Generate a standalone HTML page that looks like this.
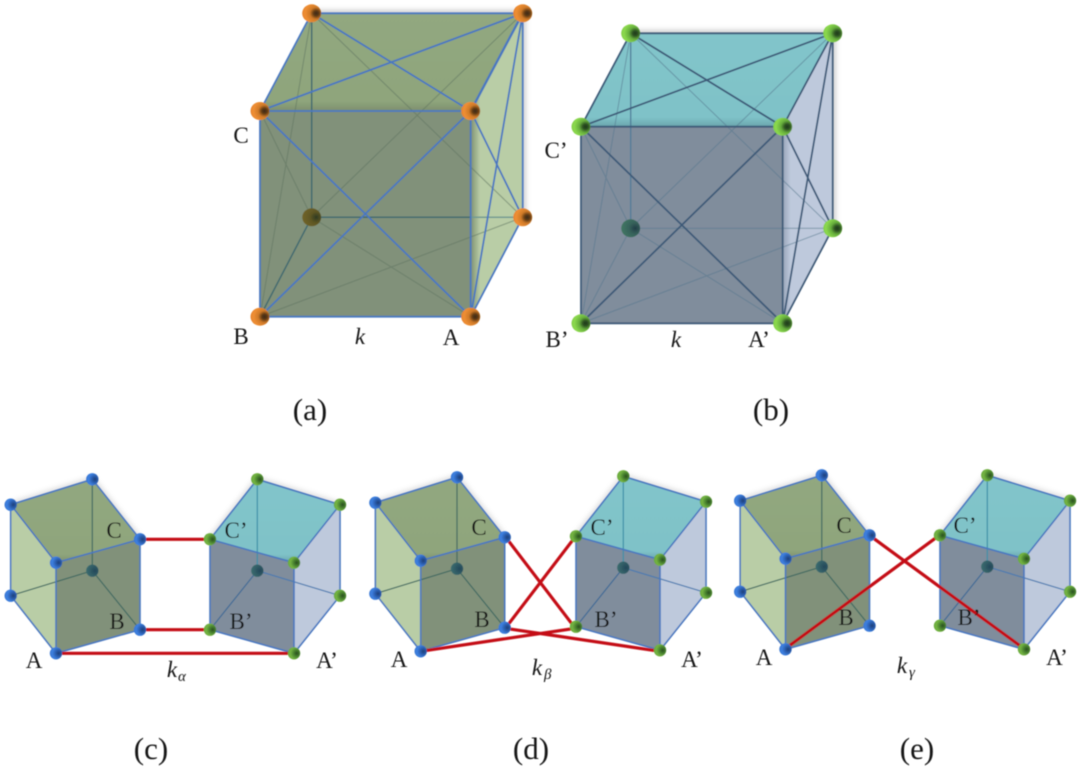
<!DOCTYPE html>
<html><head><meta charset="utf-8"><style>
html,body{margin:0;padding:0;background:#fff}
svg{display:block}
text{font-family:"Liberation Serif",serif;fill:#151515}
.l{font-size:23px;text-anchor:middle}
.c{font-size:31px;text-anchor:middle}
.i{font-style:italic}
.s{font-size:15px;font-style:italic}
</style></head><body>
<svg width="1080" height="767" viewBox="0 0 1080 767" xmlns="http://www.w3.org/2000/svg">
<defs>
<filter id="b" x="-5%" y="-5%" width="110%" height="110%"><feGaussianBlur stdDeviation="0.5"/></filter>
<filter id="sh" x="-20%" y="-20%" width="140%" height="140%"><feGaussianBlur stdDeviation="3"/></filter>
<radialGradient id="go" cx=".74" cy=".5" r=".8"><stop offset="0" stop-color="#3e2a12"/><stop offset=".18" stop-color="#5e3a14"/><stop offset=".42" stop-color="#d07a28"/><stop offset=".75" stop-color="#ef8f34"/><stop offset="1" stop-color="#e07a26"/></radialGradient>
<radialGradient id="gg" cx=".74" cy=".5" r=".8"><stop offset="0" stop-color="#1f3a1c"/><stop offset=".18" stop-color="#2e5222"/><stop offset=".42" stop-color="#66ae3c"/><stop offset=".75" stop-color="#8cd94e"/><stop offset="1" stop-color="#7cc844"/></radialGradient>
<radialGradient id="gbl" cx=".72" cy=".5" r=".8"><stop offset="0" stop-color="#1e3f78"/><stop offset=".3" stop-color="#2a5cac"/><stop offset=".65" stop-color="#3d80e0"/><stop offset="1" stop-color="#3672cc"/></radialGradient>
<radialGradient id="gsg" cx=".72" cy=".5" r=".8"><stop offset="0" stop-color="#2a4e20"/><stop offset=".3" stop-color="#47802e"/><stop offset=".65" stop-color="#74b442"/><stop offset="1" stop-color="#62a23a"/></radialGradient>
<radialGradient id="gdo" cx=".74" cy=".5" r=".8"><stop offset="0" stop-color="#2f3a20"/><stop offset=".4" stop-color="#5f5724"/><stop offset="1" stop-color="#74662a"/></radialGradient>
<radialGradient id="gdb" cx=".74" cy=".5" r=".8"><stop offset="0" stop-color="#223e48"/><stop offset=".4" stop-color="#36625a"/><stop offset="1" stop-color="#437a64"/></radialGradient>
<radialGradient id="gds" cx=".72" cy=".5" r=".8"><stop offset="0" stop-color="#24485a"/><stop offset="1" stop-color="#3f7272"/></radialGradient>
<linearGradient id="sa" x1="0" x2="1" y1="0" y2="0"><stop offset="0" stop-color="#7f9172"/><stop offset=".18" stop-color="#b9cda6"/><stop offset="1" stop-color="#b9cda6"/></linearGradient>
<linearGradient id="sb" x1="0" x2="1" y1="0" y2="0"><stop offset="0" stop-color="#98a4b8"/><stop offset=".16" stop-color="#bec9dc"/><stop offset="1" stop-color="#bec9dc"/></linearGradient>
<linearGradient id="ta" x1="0" x2="0" y1="0" y2="1"><stop offset="0" stop-color="#92a880"/><stop offset=".9" stop-color="#8fa57c"/><stop offset="1" stop-color="#7d8f6e"/></linearGradient>
<linearGradient id="tb" x1="0" x2="0" y1="0" y2="1"><stop offset="0" stop-color="#82c5ca"/><stop offset=".9" stop-color="#7fc2c8"/><stop offset="1" stop-color="#6aa5ac"/></linearGradient>
<ellipse id="po" rx="9.5" ry="9" fill="url(#go)"/>
<ellipse id="pg" rx="9.5" ry="9" fill="url(#gg)"/>
<ellipse id="pdo" rx="9.5" ry="9" fill="url(#gdo)"/>
<ellipse id="pdb" rx="9.5" ry="9" fill="url(#gdb)"/>
<circle id="bl" r="6.2" fill="url(#gbl)"/>
<circle id="sg" r="6.2" fill="url(#gsg)"/>
<circle id="ds" r="6.2" fill="url(#gds)"/>

<g id="smallL">
<path d="M10.7 504.7L92.3 479.3L140 539.3" fill="none" stroke="#999" stroke-width="3" filter="url(#sh)" opacity=".6"/>
<polygon points="92.3,479.3 10.7,504.7 56,562.7 140,539.3" fill="url(#ta)"/>
<polygon points="10.7,504.7 56,562.7 56,653.3 10.7,595.7" fill="#b9cda6"/>
<polygon points="56,562.7 140,539.3 140,629.7 56,653.3" fill="#81917a"/>
<g fill="none" stroke="#3f6a62" stroke-width="1.2">
<path d="M92.3 479.3V570.7L10.7 595.7M92.3 570.7L140 629.7"/>
</g>
<g fill="none" stroke="#4a78c0" stroke-width="1.6">
<path d="M92.3 479.3L10.7 504.7L56 562.7L140 539.3ZM10.7 504.7V595.7L56 653.3V562.7M56 653.3L140 629.7V539.3"/>
</g>
</g>

<g id="smallR">
<path d="M340 504.7L257.3 479.3L210 539.3" fill="none" stroke="#999" stroke-width="3" filter="url(#sh)" opacity=".6"/>
<polygon points="257.3,479.3 340,504.7 294,562.7 210,539.3" fill="url(#tb)"/>
<polygon points="340,504.7 294,562.7 294,653.3 340,595.7" fill="#bec9dc"/>
<polygon points="294,562.7 210,539.3 210,629.7 294,653.3" fill="#808d9c"/>
<g fill="none" stroke-width="1.2">
<path d="M257.3 479.3V570.7" stroke="#3a8fa8"/>
<path d="M210 629.7L257.3 570.7" stroke="#3e6a96"/>
<path d="M257.3 570.7L340 595.7" stroke="#4a7ab0"/>
</g>
<g fill="none" stroke="#4a78c0" stroke-width="1.6">
<path d="M257.3 479.3L340 504.7L294 562.7L210 539.3ZM340 504.7V595.7L294 653.3V562.7M294 653.3L210 629.7V539.3"/>
</g>
</g>

<g id="nodesL">
<use href="#bl" x="92.3" y="479.3"/><use href="#bl" x="10.7" y="504.7"/><use href="#bl" x="140" y="539.3"/><use href="#bl" x="56" y="562.7"/><use href="#ds" x="92.3" y="570.7"/><use href="#bl" x="10.7" y="595.7"/><use href="#bl" x="140" y="629.7"/><use href="#bl" x="56" y="653.3"/>
</g>
<g id="nodesR">
<use href="#sg" x="257.3" y="479.3"/><use href="#sg" x="340" y="504.7"/><use href="#sg" x="210" y="539.3"/><use href="#sg" x="294" y="562.7"/><use href="#ds" x="257.3" y="570.7"/><use href="#sg" x="340" y="595.7"/><use href="#sg" x="210" y="629.7"/><use href="#sg" x="294" y="653.3"/>
</g>
</defs>

<g filter="url(#b)">
<!-- cube a -->
<path d="M312 13H523V217" fill="none" stroke="#888" stroke-width="4" filter="url(#sh)" opacity=".6"/>
<polygon points="311.7,13.3 522.7,13.3 470.7,111 260,111" fill="url(#ta)"/>
<polygon points="470.7,111 522.7,13.3 522.7,217.3 470.7,316.7" fill="url(#sa)"/>
<polygon points="260,111 470.7,111 470.7,316.7 260,316.7" fill="#81917a"/>
<g fill="none" stroke="#5f7460" stroke-width="1.1" opacity=".55">
<path d="M260 316.7L311.7 13.3M260 111L311.7 217.3M311.7 217.3L522.7 13.3M311.7 217.3L470.7 316.7M260 316.7L522.7 217.3M311.7 13.3L522.7 217.3"/>
</g>
<g fill="none" stroke="#3f6a70" stroke-width="1.5">
<path d="M311.7 13.3V217.3L260 316.7M311.7 217.3H470.7"/>
</g>
<path d="M470.7 217.3H522.7" stroke="#6f9a92" stroke-width="1.5"/>
<g fill="none" stroke="#4a78c0" stroke-width="1.8">
<path d="M311.7 13.3H522.7M311.7 13.3L260 111M260 111H470.7M260 111V316.7H470.7V111M522.7 13.3V217.3L470.7 316.7M311.7 13.3L470.7 111M260 111L522.7 13.3M260 111L470.7 316.7M260 316.7L470.7 111M522.7 13.3L470.7 316.7M470.7 111L522.7 217.3"/>
<path d="M522.7 13.3L470.7 111" stroke-width="2.4"/>
</g>
<use href="#po" x="311.7" y="13.3"/><use href="#po" x="522.7" y="13.3"/><use href="#po" x="260" y="111"/><use href="#po" x="470.7" y="111"/><use href="#pdo" x="311.7" y="217.3"/><use href="#po" x="522.7" y="217.3"/><use href="#po" x="260" y="316.7"/><use href="#po" x="470.7" y="316.7"/>

<!-- cube b -->
<path d="M631 33H833V228" fill="none" stroke="#888" stroke-width="4" filter="url(#sh)" opacity=".6"/>
<polygon points="630.7,33.3 832.7,33.3 782.7,126.7 581,126.7" fill="url(#tb)"/>
<polygon points="782.7,126.7 832.7,33.3 832.7,228.3 782.7,323.3" fill="url(#sb)"/>
<polygon points="581,126.7 782.7,126.7 782.7,323.3 581,323.3" fill="#808d9c"/>
<g fill="none" stroke="#56788e" stroke-width="1.1" opacity=".55">
<path d="M581 323.3L630.7 33.3M581 126.7L630.7 228.3M630.7 228.3L832.7 33.3M630.7 228.3L782.7 323.3M581 323.3L832.7 228.3M630.7 33.3L832.7 228.3M581 323.3L630.7 228.3M630.7 228.3H832.7"/>
</g>
<path d="M630.7 33.3V228.3" fill="none" stroke="#4f7b98" stroke-width="1.3"/>
<g fill="none" stroke="#3d5a78" stroke-width="1.8">
<path d="M630.7 33.3H832.7M630.7 33.3L581 126.7M581 126.7H782.7M581 126.7V323.3H782.7V126.7M832.7 33.3V228.3L782.7 323.3M832.7 33.3L782.7 126.7M630.7 33.3L782.7 126.7M581 126.7L832.7 33.3M581 126.7L782.7 323.3M581 323.3L782.7 126.7M832.7 33.3L782.7 323.3M782.7 126.7L832.7 228.3"/>
</g>
<use href="#pg" x="630.7" y="33.3"/><use href="#pg" x="832.7" y="33.3"/><use href="#pg" x="581" y="126.7"/><use href="#pg" x="782.7" y="126.7"/><use href="#pdb" x="630.7" y="228.3"/><use href="#pg" x="832.7" y="228.3"/><use href="#pg" x="581" y="323.3"/><use href="#pg" x="782.7" y="323.3"/>

<!-- c -->
<use href="#smallL"/><use href="#smallR"/>
<g stroke="#c40d14" stroke-width="3.2" fill="none"><path d="M140 539.3H210M140 629.7H210M56 653.3H294"/></g>
<use href="#nodesL"/><use href="#nodesR"/>

<!-- d -->
<g transform="translate(364.7,-2)"><use href="#smallL"/></g>
<g transform="translate(366,-3)"><use href="#smallR"/></g>
<g stroke="#c40d14" stroke-width="3.2" fill="none"><path d="M505.3 536.7L575.3 628.3M505.3 628.3L575.3 536.7M420.7 651.3L575.3 628.3M505.3 628.3L660 651.3"/></g>
<g transform="translate(364.7,-2)"><use href="#nodesL"/></g>
<g transform="translate(366,-3)"><use href="#nodesR"/></g>

<!-- e -->
<g transform="translate(729.5,-4)"><use href="#smallL"/></g>
<g transform="translate(730,-4)"><use href="#smallR"/></g>
<g stroke="#c40d14" stroke-width="3.2" fill="none"><path d="M870 535.7L1024 648.7M785.3 648.7L939.3 535.3"/></g>
<g transform="translate(729.5,-4)"><use href="#nodesL"/></g>
<g transform="translate(730,-4)"><use href="#nodesR"/></g>

<!-- labels -->
<text class="l" x="241" y="143">C</text><text class="l" x="241" y="344">B</text><text class="l i" x="360" y="344">k</text><text class="l" x="451" y="345">A</text>
<text class="l" x="556" y="158">C’</text><text class="l" x="557" y="347">B’</text><text class="l i" x="676" y="347">k</text><text class="l" x="759" y="347">A’</text>
<text class="c" x="310" y="420">(a)</text><text class="c" x="771" y="420">(b)</text>
<text class="c" x="151" y="759">(c)</text><text class="c" x="531" y="759">(d)</text><text class="c" x="917" y="759">(e)</text>

<text class="l" x="114" y="538">C</text><text class="l" x="117" y="629">B</text><text class="l" x="34" y="668">A</text>
<text class="l" x="236" y="538">C’</text><text class="l" x="241" y="629">B’</text><text class="l" x="327" y="668">A’</text>
<text class="l i" x="172" y="677">k</text><text class="s" x="178" y="681">α</text>

<text class="l" x="479" y="535">C</text><text class="l" x="482" y="627">B</text><text class="l" x="399" y="667">A</text>
<text class="l" x="602" y="535">C’</text><text class="l" x="606" y="627">B’</text><text class="l" x="692" y="667">A’</text>
<text class="l i" x="537" y="675">k</text><text class="s" x="544" y="679">β</text>

<text class="l" x="844" y="533">C</text><text class="l" x="846" y="625">B</text><text class="l" x="764" y="665">A</text>
<text class="l" x="965" y="533">C’</text><text class="l" x="969" y="625">B’</text><text class="l" x="1057" y="665">A’</text>
<text class="l i" x="902" y="673">k</text><text class="s" x="909" y="677">γ</text>
</g>
</svg>
</body></html>
